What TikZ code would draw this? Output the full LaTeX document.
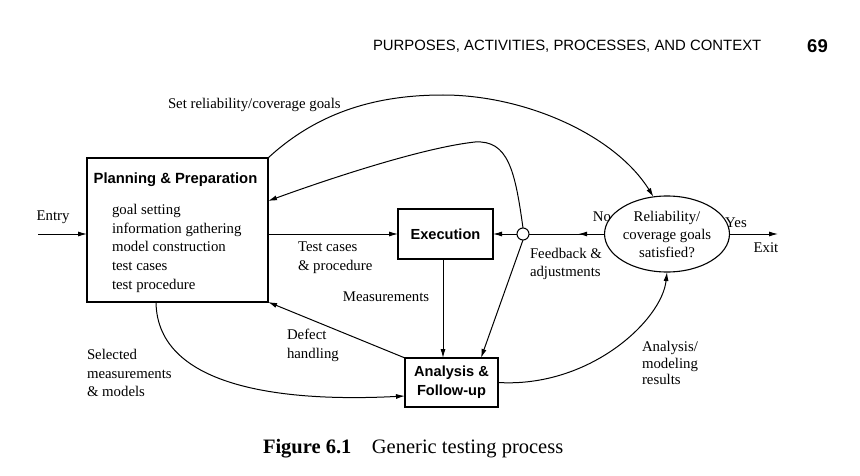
\documentclass[tikz,border=0pt]{standalone}
\usepackage{fontspec}
\setmainfont{Liberation Serif}
\setsansfont{Liberation Sans}
\usetikzlibrary{arrows.meta,shapes.geometric,decorations.markings,calc}
\begin{document}
\begin{tikzpicture}[x=1pt,y=-1pt,
  every node/.style={inner sep=0pt, outer sep=0pt},
  lbl/.style={font=\fontsize{14.8}{18.8}\selectfont, align=left},
  box/.style={draw, line width=1.1pt, font=\sffamily\bfseries\fontsize{14.6}{19}\selectfont, align=center},
  conn/.style={line width=1pt},
  arr/.style={conn, -{Latex[length=9pt,width=5pt]}},
  midarr/.style={conn, postaction={decorate}, decoration={markings, mark=at position #1 with {\arrow{Latex[length=9pt,width=5pt]}}}},
]
\fill[white] (0,0) rectangle (860,476);
\useasboundingbox (0,0) rectangle (860,476);

% header
\node[anchor=west, font=\sffamily\fontsize{14.9}{17}\selectfont] (hdr) at (373,46) {PURPOSES, ACTIVITIES, PROCESSES, AND CONTEXT};
\node[font=\sffamily\bfseries\fontsize{18.5}{20}\selectfont] (pg) at (817.5,46) {69};

% nodes
\node[draw, line width=1.1pt, minimum width=181, minimum height=144] (plan) at (177.5,230) {};
\node[font=\sffamily\bfseries\fontsize{14.8}{19}\selectfont] (plantitle) at (175.5,180) {Planning \& Preparation};
\node[lbl, anchor=north west] (planlist) at (112,204) {goal setting\\information gathering\\model construction\\test cases\\test procedure};

\node[box, minimum width=95, minimum height=50] (exec) at (445.5,234) {Execution};
\node[draw, circle, line width=1pt, minimum size=12] (circ) at (523,234) {};
\node[draw, ellipse, line width=1.1pt, minimum width=112, minimum height=76, font=\fontsize{14.8}{18}\selectfont, align=center] (ell) at (667,234) {Reliability/\\coverage goals\\satisfied?};
\node[box, minimum width=93, minimum height=49] (ana) at (451.5,382.5) {Analysis \&\\Follow-up};

\coordinate (entry) at (38,234);
\coordinate (exit) at (778,234);

% connectors
\draw[arr] (entry) -- (entry -| plan.west);
\draw[arr] (plan.east |- exec.west) -- (exec.west);
\draw[midarr=0.35] (ell.west) -- (circ.east);
\draw[arr] (circ.west) -- (exec.east);
\draw[arr] (ell.east) -- (exit);
\draw[arr] ([xshift=-2.5pt]exec.south) -- ([xshift=-2.5pt]exec.south |- ana.north);
\draw[arr] (circ.south) -- ([xshift=29.5pt]ana.north);
\draw[arr] (ana.north west) -- (plan.south east);
\draw[arr] ([xshift=-21.5pt]plan.south) .. controls (157,390) and (290,402) .. ([yshift=-13.5pt]ana.west);
\draw[arr] (ana.east) .. controls (590,388) and (662,320) .. (ell.south);
\draw[arr] (plan.north east) .. controls (320,110) and (380,95) .. (443,95) .. controls (525,95) and (615,135) .. (ell.110);
\draw[arr] (circ.north) .. controls (515,170) and (508,140) .. (475,142) .. controls (420,148) and (320,182) .. ([yshift=29pt]plan.east);

% labels
\node[lbl, anchor=west] (setlbl) at (168,105) {Set reliability/coverage goals};
\node[lbl] (entrylbl) at (53,217) {Entry};
\node[lbl, anchor=west] (tclbl) at (298,258) {Test cases\\\& procedure};
\node[lbl] (measlbl) at (386,297) {Measurements};
\node[lbl, anchor=west] (deflbl) at (287,345) {Defect\\handling};
\node[lbl, anchor=west] (sellbl) at (87,373) {Selected\\measurements\\\& models};
\node[lbl] (nolbl) at (602,217) {No};
\node[lbl] (yeslbl) at (736,223) {Yes};
\node[lbl] (exitlbl) at (766,248) {Exit};
\node[lbl, anchor=west] (fblbl) at (530,264) {Feedback \&\\adjustments};
\node[lbl, anchor=west, font=\fontsize{14.8}{16.5}\selectfont] (amlbl) at (642,363) {Analysis/\\modeling\\results};

% caption
\node[anchor=west, font=\fontsize{20.5}{24}\selectfont] (cap) at (263,449) {\textbf{Figure 6.1}\quad Generic testing process};
\end{tikzpicture}
\end{document}
